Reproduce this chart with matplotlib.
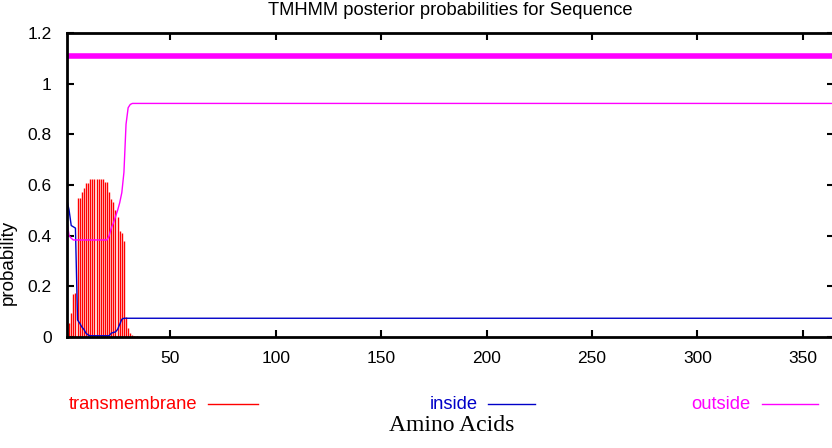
import matplotlib
matplotlib.use("Agg")
import matplotlib.pyplot as plt
import numpy as np
from matplotlib.lines import Line2D

seq_len = 365

# posterior probs, residues 1..34, the rest stays flat
tm_head = [0.015, 0.054, 0.093, 0.17, 0.175, 0.547, 0.547, 0.574, 0.587, 0.607,
           0.607, 0.622, 0.622, 0.622, 0.622, 0.622, 0.622, 0.622, 0.613, 0.61,
           0.574, 0.543, 0.534, 0.50, 0.475, 0.42, 0.41, 0.38, 0.08, 0.035,
           0.015, 0.008, 0.005, 0.003]
tm_tail = 0.0

inside_head = [0.54, 0.50, 0.44, 0.435, 0.43, 0.067, 0.055, 0.04, 0.03, 0.015,
               0.008, 0.005, 0.005, 0.005, 0.005, 0.005, 0.005, 0.005, 0.005, 0.005,
               0.005, 0.015, 0.018, 0.02, 0.03, 0.05, 0.07, 0.074, 0.074, 0.074,
               0.074, 0.074, 0.074, 0.074]
inside_tail = 0.074

outside_head = [0.455, 0.40, 0.39, 0.383, 0.383, 0.383, 0.383, 0.383, 0.383, 0.383,
                0.383, 0.383, 0.383, 0.383, 0.383, 0.383, 0.383, 0.383, 0.383, 0.383,
                0.40, 0.43, 0.45, 0.475, 0.50, 0.53, 0.57, 0.65, 0.84, 0.905,
                0.918, 0.922, 0.922, 0.922]
outside_tail = 0.922

# predicted topology bar at the top: one outside segment
topo_start = [1]
topo_end = [365]
topo_level = 1.11

x_ticks = [50, 100, 150, 200, 250, 300, 350]
y_ticks = [0, 0.2, 0.4, 0.6, 0.8, 1.0, 1.2]
y_tick_labels = ["0", "0.2", "0.4", "0.6", "0.8", "1", "1.2"]

RED = "#ff0000"
BLUE = "#0000c8"
MAGENTA = "#ff00ff"


def full_series(head, tail):
    return np.array(head + [tail] * (seq_len - len(head)))


residues = np.arange(1, seq_len + 1)
tm = full_series(tm_head, tm_tail)
inside = full_series(inside_head, inside_tail)
outside = full_series(outside_head, outside_tail)

sans = ["Liberation Sans", "DejaVu Sans"]

fig = plt.figure(figsize=(8.32, 4.48), dpi=100)
ax = fig.add_axes([67 / 832, 1 - 337 / 448, 1.003 - 67 / 832, (337 - 33) / 448])

ax.vlines(residues, 0, tm, color=RED, lw=1.0)
ax.plot(residues, inside, color=BLUE, lw=1.0)
ax.plot(residues, outside, color=MAGENTA, lw=1.0)
for s, e in zip(topo_start, topo_end):
    ax.plot([s, e], [topo_level, topo_level], color=MAGENTA, lw=4, solid_capstyle="butt")

ax.set_xlim(1, seq_len)
ax.set_ylim(0, 1.2)
ax.set_xticks(x_ticks)
ax.set_yticks(y_ticks)
ax.set_yticklabels(y_tick_labels)
ax.tick_params(direction="in", length=5, width=1.5, top=True, right=True,
               labelsize=12.5, colors="black")
ax.tick_params(axis="x", pad=10)
ax.tick_params(axis="y", pad=11)
for lab in ax.get_xticklabels() + ax.get_yticklabels():
    lab.set_family(sans)
for side in ["top", "bottom", "left", "right"]:
    ax.spines[side].set_linewidth(2)

fig.text(8 / 832, 186 / 448, "probability", rotation=90, ha="center", va="center",
         fontsize=13.5, family=sans)
fig.text(450 / 832, 1 - 15 / 448, "TMHMM posterior probabilities for Sequence",
         ha="center", va="baseline", fontsize=13.2, family=sans)

# legend row under the axis: label ends just before its sample line
leg_y = 1 - 404 / 448
legend = [("transmembrane", RED, 197, 208, 258),
          ("inside", BLUE, 478, 488, 535),
          ("outside", MAGENTA, 751, 762, 818)]
for name, col, tx, x0, x1 in legend:
    fig.text(tx / 832, leg_y, name, color=col, ha="right", va="center",
             fontsize=13.2, family=sans)
    fig.add_artist(Line2D([x0 / 832, x1 / 832], [leg_y, leg_y], color=col, lw=1,
                          transform=fig.transFigure))

fig.text(452 / 832, 1 - 425 / 448, "Amino Acids", ha="center", va="center",
         fontsize=17, family=["Liberation Serif", "DejaVu Serif"])

fig.savefig("out.png", dpi=100)
